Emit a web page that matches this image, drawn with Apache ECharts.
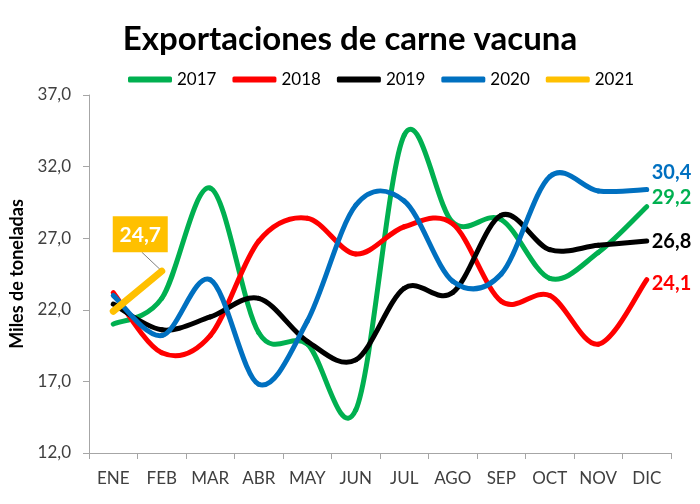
<!DOCTYPE html>
<html>
<head>
<meta charset="utf-8">
<script src="https://cdn.jsdelivr.net/npm/echarts@6/dist/echarts.min.js"></script>
<style>
  html, body { margin: 0; padding: 0; background: #fff; }
  #app { width: 700px; height: 504px; }
</style>
</head>
<body>
<div id="app"></div>
<script>
const months = ['ENE', 'FEB', 'MAR', 'ABR', 'MAY', 'JUN', 'JUL', 'AGO', 'SEP', 'OCT', 'NOV', 'DIC'];
const y2017 = [21.0, 22.8, 30.5, 20.4, 19.6, 15.0, 34.2, 28.1, 28.3, 24.2, 26.0, 29.2];
const y2018 = [23.2, 19.0, 20.2, 26.8, 28.4, 25.9, 27.8, 28.0, 22.6, 23.0, 19.6, 24.1];
const y2019 = [22.4, 20.6, 21.5, 22.8, 19.8, 18.5, 23.5, 23.2, 28.6, 26.2, 26.5, 26.8];
const y2020 = [23.0, 20.2, 24.1, 16.8, 21.2, 29.3, 29.6, 24.0, 24.5, 31.3, 30.3, 30.4];
const y2021 = [21.9, 24.7];

const FONT = 'Lato';
const fmt = v => v.toFixed(1).replace('.', ',');

// Excel-like smoothed line: cubic bezier pieces through every point (Catmull-Rom, 1/6)
const smoothPieces = (pts, color, width) => {
  const out = [];
  for (let i = 0; i < pts.length - 1; i++) {
    const p0 = pts[i - 1] || pts[i];
    const p1 = pts[i];
    const p2 = pts[i + 1];
    const p3 = pts[i + 2] || p2;
    out.push({
      type: 'bezierCurve',
      shape: {
        x1: p1[0], y1: p1[1],
        cpx1: p1[0] + (p2[0] - p0[0]) / 6, cpy1: p1[1] + (p2[1] - p0[1]) / 6,
        cpx2: p2[0] - (p3[0] - p1[0]) / 6, cpy2: p2[1] - (p3[1] - p1[1]) / 6,
        x2: p2[0], y2: p2[1]
      },
      style: { fill: null, stroke: color, lineWidth: width, lineCap: 'round', lineJoin: 'round' }
    });
  }
  return out;
};

const year = (name, values, color, labelDy) => ({
  name,
  type: 'custom',
  data: values.map((v, i) => [i, v]),
  encode: { x: 0, y: 1 },
  itemStyle: { color },
  silent: true,
  renderItem: (params, api) => {
    if (params.dataIndex !== 0) return null;
    const pts = values.map((v, i) => api.coord([i, v]));
    const last = pts[pts.length - 1];
    const children = smoothPieces(pts, color, 5);
    children.push({
      type: 'text',
      x: last[0] + 5,
      y: last[1] + labelDy,
      style: {
        text: fmt(values[values.length - 1]),
        fill: color,
        font: `bold 20px ${FONT}`,
        verticalAlign: 'middle',
        align: 'left'
      }
    });
    return { type: 'group', children };
  }
});

const chart = echarts.init(document.getElementById('app'));
chart.setOption({
  animation: false,
  title: {
    text: 'Exportaciones de carne vacuna',
    left: 'center',
    top: 18,
    textStyle: { fontFamily: FONT, fontWeight: 'bold', fontSize: 33, color: '#000' }
  },
  legend: {
    left: 123,
    top: 66,
    itemWidth: 44,
    itemHeight: 6,
    itemGap: 16,
    icon: 'roundRect',
    textStyle: { fontFamily: FONT, fontSize: 17, color: '#000' },
    data: ['2017', '2018', '2019', '2020', '2021']
  },
  grid: { left: 84, right: 29, top: 95, bottom: 51 },
  xAxis: {
    type: 'category',
    data: months,
    boundaryGap: true,
    axisLine: { lineStyle: { color: '#a6a6a6', width: 1 } },
    axisTick: { show: true, length: 6, interval: 0, lineStyle: { color: '#a6a6a6' } },
    axisLabel: { interval: 0, margin: 17, fontFamily: FONT, fontSize: 17, color: '#404040' },
    splitLine: { show: false }
  },
  yAxis: {
    type: 'value',
    min: 12,
    max: 37,
    interval: 5,
    name: 'Miles de toneladas',
    nameLocation: 'middle',
    nameRotate: 90,
    nameGap: 63,
    nameTextStyle: { fontFamily: FONT, fontWeight: 'bold', fontSize: 18, color: '#000' },
    axisLine: { show: true, lineStyle: { color: '#a6a6a6', width: 1 } },
    axisTick: { show: true, length: 6, lineStyle: { color: '#a6a6a6' } },
    axisLabel: { formatter: fmt, margin: 18, fontFamily: FONT, fontSize: 17, color: '#404040' },
    splitLine: { show: false }
  },
  series: [
    year('2017', y2017, '#00b050', -9),
    year('2018', y2018, '#ff0000', 4),
    year('2019', y2019, '#000000', 0),
    year('2020', y2020, '#0070c0', -17),
    {
      name: '2021',
      type: 'custom',
      data: y2021.map((v, i) => [i, v]),
      encode: { x: 0, y: 1 },
      itemStyle: { color: '#ffc000' },
      silent: true,
      renderItem: (params, api) => {
        if (params.dataIndex !== 0) return null;
        const pts = y2021.map((v, i) => api.coord([i, v]));
        const end = pts[pts.length - 1];
        const bx = end[0] - 49, by = end[1] - 55;
        return {
          type: 'group',
          children: [
            {
              type: 'line',
              shape: { x1: pts[0][0], y1: pts[0][1], x2: end[0], y2: end[1] },
              style: { stroke: '#ffc000', lineWidth: 7, lineCap: 'round' }
            },
            {
              type: 'line',
              shape: { x1: bx + 29, y1: by + 36, x2: end[0] - 2, y2: end[1] - 2 },
              style: { stroke: '#7f7f7f', lineWidth: 1 }
            },
            {
              type: 'rect',
              shape: { x: bx, y: by, width: 55, height: 36 },
              style: { fill: '#ffc000' }
            },
            {
              type: 'text',
              x: bx + 27.5,
              y: by + 19,
              style: {
                text: fmt(y2021[y2021.length - 1]),
                fill: '#fff',
                font: `bold 21px ${FONT}`,
                align: 'center',
                verticalAlign: 'middle'
              }
            }
          ]
        };
      }
    }
  ]
});
</script>
</body>
</html>
